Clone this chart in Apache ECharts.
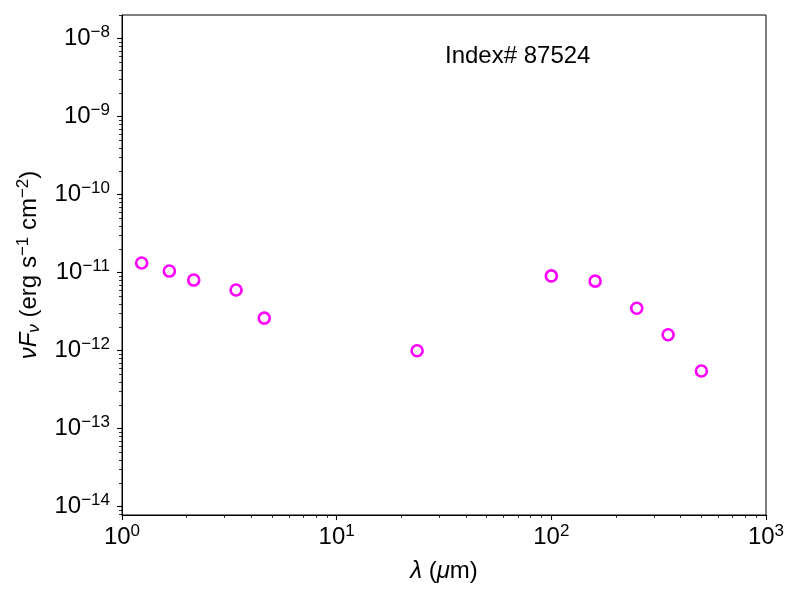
<!DOCTYPE html>
<html>
<head>
<meta charset="UTF-8">
<title>SED Index# 87524</title>
<script src="https://cdn.jsdelivr.net/npm/echarts@6/dist/echarts.min.js"></script>
<style>
html,body{margin:0;padding:0;background:#fff}
#main{width:800px;height:600px}
</style>
</head>
<body>
<div id="main"></div>
<script>
// wavelength in micron, nuFnu in erg s^-1 cm^-2
var wavelength = [1.235, 1.662, 2.159, 3.4, 4.6, 23.7, 100, 160, 250, 350, 500];
var nuFnu = [1.33e-11, 1.05e-11, 8.05e-12, 6.0e-12, 2.62e-12, 1.0e-12, 9.1e-12, 7.8e-12, 3.5e-12, 1.6e-12, 5.5e-13];

// decade exponents that get a label
var xDecades = [0, 1, 2, 3];
var yDecades = [-14, -13, -12, -11, -10, -9, -8];

var xRange = [0, 3];
var yRange = [-14.106, -7.696];

var FONT = 'Liberation Sans';

// minor ticks at 2..9 x 10^n (log10 space)
function minorTicks(lo, hi) {
  var out = [];
  for (var n = Math.floor(lo) - 1; n <= Math.ceil(hi); n++) {
    for (var k = 2; k <= 9; k++) {
      var v = n + Math.log10(k);
      if (v > lo && v < hi) out.push(v);
    }
  }
  return out;
}

function powLabel(v) {
  var e = Math.round(v);
  var s = e < 0 ? '\u2212' + (-e) : '' + e;
  return '{b|10}{s|' + s + '}';
}

var tickRich = {
  b: {fontFamily: FONT, fontSize: 24, color: '#000'},
  s: {fontFamily: FONT, fontSize: 17, color: '#000', padding: [0, 0, 12, 0]}
};

var pts = [];
for (var i = 0; i < wavelength.length; i++) {
  pts.push([Math.log10(wavelength[i]), Math.log10(nuFnu[i])]);
}

var chart = echarts.init(document.getElementById('main'));
chart.setOption({
  animation: false,
  title: {
    text: 'Index# 87524',
    left: 445, top: 44, padding: 0,
    textStyle: {fontFamily: FONT, fontSize: 24, fontWeight: 'normal', color: '#000'}
  },
  grid: {
    left: 122, right: 34, top: 15, bottom: 85,
    show: true, borderColor: '#000', borderWidth: 1
  },
  xAxis: [{
    type: 'value', min: xRange[0], max: xRange[1], position: 'bottom',
    name: '{i|\u03bb} ({i|\u03bc}m)',
    nameLocation: 'middle', nameGap: 44,
    nameTextStyle: {
      fontFamily: FONT, fontSize: 24, color: '#000',
      rich: {i: {fontFamily: FONT, fontSize: 24, fontStyle: 'italic', color: '#000'}}
    },
    axisLine: {show: true, lineStyle: {color: '#000', width: 1}},
    axisTick: {show: true, customValues: xDecades, length: 5, lineStyle: {color: '#000', width: 1.1}},
    axisLabel: {customValues: xDecades, margin: 8, formatter: powLabel, rich: tickRich},
    splitLine: {show: false}
  }, {
    type: 'value', min: xRange[0], max: xRange[1], position: 'bottom',
    axisLine: {show: false},
    axisTick: {show: true, customValues: minorTicks(xRange[0], xRange[1]), length: 3, lineStyle: {color: '#000', width: 0.8}},
    axisLabel: {show: false},
    splitLine: {show: false}
  }],
  yAxis: [{
    type: 'value', min: yRange[0], max: yRange[1], position: 'left',
    name: '{i|\u03bdF}{sub|\u03bd} (erg s{sup|\u22121} cm{sup|\u22122})',
    nameLocation: 'middle', nameGap: 78, nameRotate: 90,
    nameTextStyle: {
      fontFamily: FONT, fontSize: 24, color: '#000',
      rich: {
        i: {fontFamily: FONT, fontSize: 24, fontStyle: 'italic', color: '#000'},
        sub: {fontFamily: FONT, fontSize: 17, fontStyle: 'italic', color: '#000', padding: [10, 0, 0, 0]},
        sup: {fontFamily: FONT, fontSize: 17, color: '#000', padding: [0, 0, 12, 0]}
      }
    },
    axisLine: {show: true, lineStyle: {color: '#000', width: 1}},
    axisTick: {show: true, customValues: yDecades, length: 5, lineStyle: {color: '#000', width: 1.1}},
    axisLabel: {customValues: yDecades, margin: 12, formatter: powLabel, rich: tickRich},
    splitLine: {show: false}
  }, {
    type: 'value', min: yRange[0], max: yRange[1], position: 'left',
    axisLine: {show: false},
    axisTick: {show: true, customValues: minorTicks(yRange[0], yRange[1]), length: 3, lineStyle: {color: '#000', width: 0.8}},
    axisLabel: {show: false},
    splitLine: {show: false}
  }],
  series: [{
    type: 'scatter',
    xAxisIndex: 0, yAxisIndex: 0,
    symbol: 'circle', symbolSize: 11,
    itemStyle: {color: 'rgba(255,255,255,0)', borderColor: '#ff00ff', borderWidth: 2.6, opacity: 1},
    data: pts
  }]
});
</script>
</body>
</html>
